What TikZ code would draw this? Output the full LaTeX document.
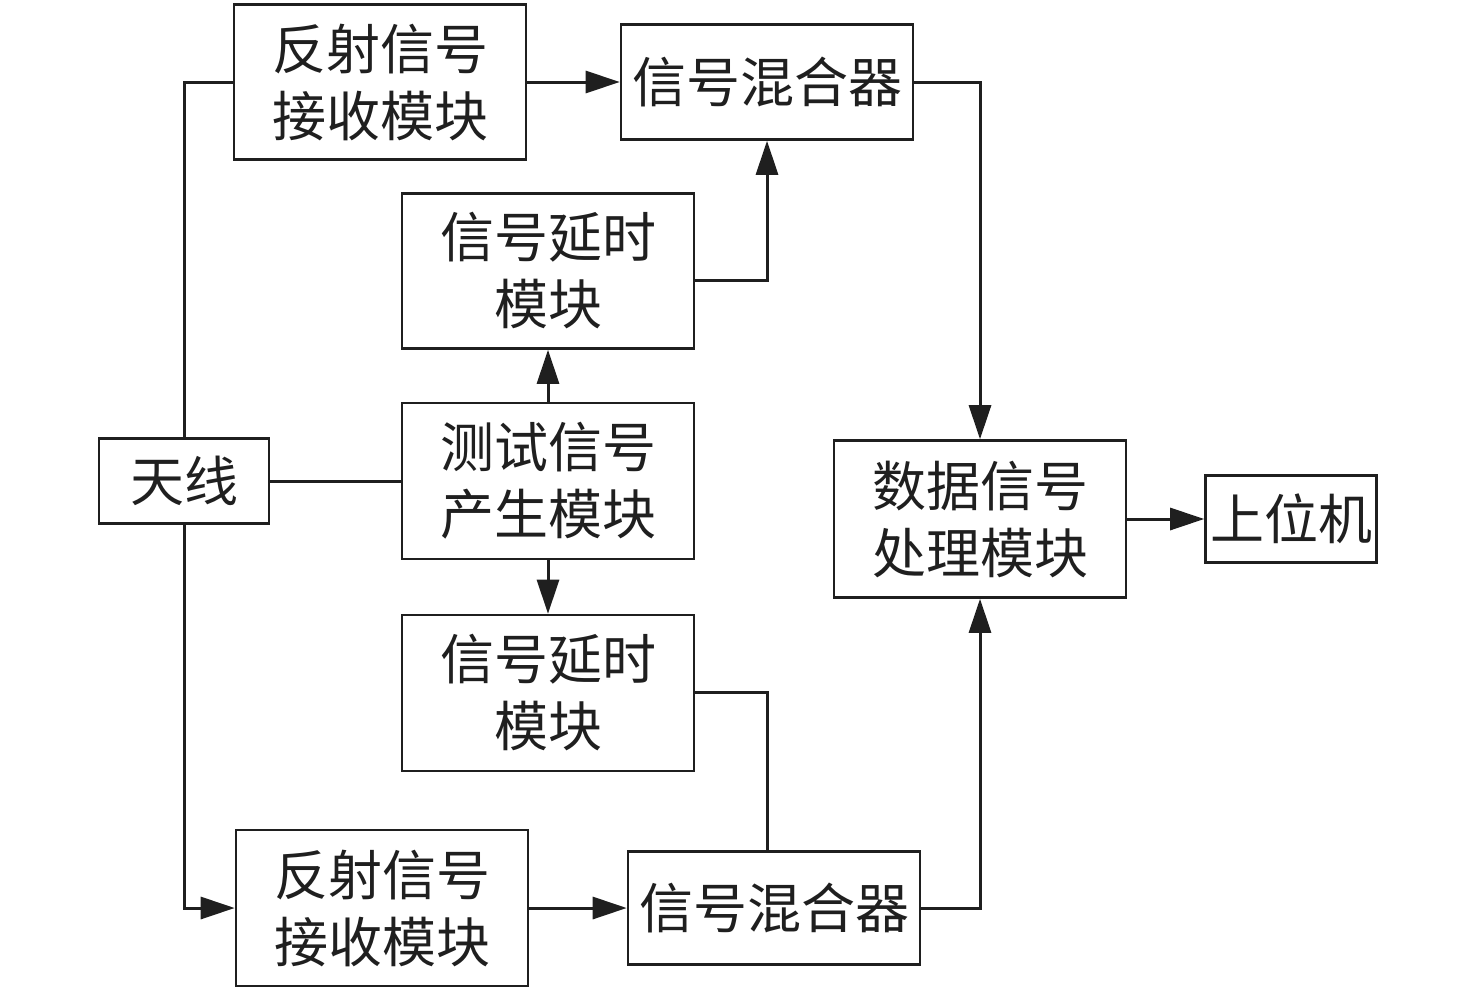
\documentclass[tikz,border=0pt]{standalone}
\usepackage{fontspec}
\setmainfont{Noto Sans CJK SC}
\usetikzlibrary{arrows.meta}
\begin{document}
\begin{tikzpicture}[x=0.5pt,y=-0.5pt,
  blk/.style={draw=black!88, line width=1.3pt, inner sep=0pt, align=center,
    font=\fontsize{27}{33.5}\selectfont, text=black!88},
  conn/.style={draw=black!88, line width=1.5pt},
  arr/.style={conn, -{Triangle[length=17pt,width=11pt]}}]
\useasboundingbox (0,0) rectangle (1476,992);
\node[blk, minimum width=146pt, minimum height=77.5pt] (r1) at (380,82) {反射信号\\接收模块};
\node[blk, minimum width=146pt, minimum height=57.5pt] (m1) at (767,82) {信号混合器};
\node[blk, minimum width=146pt, minimum height=77.5pt] (d1) at (548,271) {信号延时\\模块};
\node[blk, minimum width=85pt, minimum height=42.5pt] (ant) at (184,481) {天线};
\node[blk, minimum width=146pt, minimum height=78pt] (gen) at (548,481) {测试信号\\产生模块};
\node[blk, minimum width=146pt, minimum height=78.5pt] (dsp) at (980,519) {数据信号\\处理模块};
\node[blk, minimum width=85.5pt, minimum height=43.5pt] (pc) at (1291,519) {上位机};
\node[blk, minimum width=146pt, minimum height=78pt] (d2) at (548,693) {信号延时\\模块};
\node[blk, minimum width=146pt, minimum height=78pt] (r2) at (382,908) {反射信号\\接收模块};
\node[blk, minimum width=146pt, minimum height=56.5pt] (m2) at (774,908) {信号混合器};
\coordinate (c1) at (767,280);
\coordinate (c2) at (767,692);
% connectors
\draw[conn] (ant.north) |- (r1.west);
\draw[arr] (ant.south) |- (r2.west);
\draw[conn] (ant.east) -- (gen.west);
\draw[arr] (r1.east) -- (m1.west);
\draw[arr] (r2.east) -- (m2.west);
\draw[arr] (gen.north) -- (d1.south);
\draw[arr] (gen.south) -- (d2.north);
\draw[arr] (d1.east |- c1) -- (c1) -- (m1.south);
\draw[conn] (d2.east |- c2) -- (c2) -- (c2 |- m2.north);
\draw[arr] (m1.east) -| (dsp.north);
\draw[arr] (m2.east) -| (dsp.south);
\draw[arr] (dsp.east) -- (pc.west);
\end{tikzpicture}
\end{document}
